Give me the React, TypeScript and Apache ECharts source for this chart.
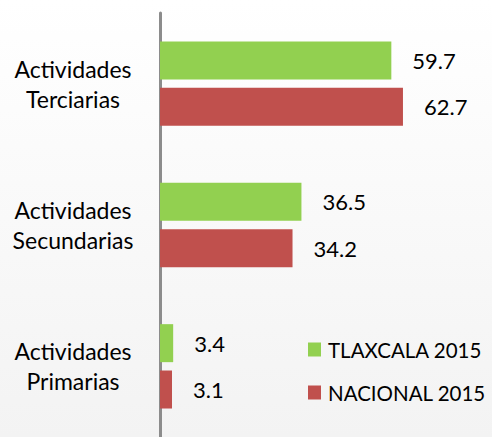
import React, { useEffect, useRef } from "react";
import * as echarts from "echarts";

const categories = ["Actividades\nTerciarias", "Actividades\nSecundarias", "Actividades\nPrimarias"];
const tlaxcala = [59.7, 36.5, 3.4];
const nacional = [62.7, 34.2, 3.1];
const seriesNames = ["TLAXCALA 2015", "NACIONAL 2015"];

export default function App() {
  const ref = useRef<HTMLDivElement>(null);
  useEffect(() => {
    const chart = echarts.init(ref.current!, null, { renderer: "svg" });
    const font = "Lato";
    const fs = 22;
    chart.setOption({
      animation: false,
      backgroundColor: {
        type: "linear", x: 0, y: 0, x2: 0, y2: 1,
        colorStops: [{ offset: 0, color: "#ffffff" }, { offset: 1, color: "#f3f3f3" }],
      },
      grid: { left: 160, right: 22, top: 13, bottom: -2, containLabel: false },
      xAxis: {
        type: "value", min: 0, max: 80, show: false,
      },
      yAxis: {
        type: "category", data: categories, inverse: true,
        axisLine: { show: true, lineStyle: { color: "#8c8c8c", width: 3 } },
        axisTick: { show: false },
        axisLabel: { align: "center", margin: 87, color: "#000", fontSize: 23, fontFamily: font, lineHeight: 30 },
      },
      legend: {
        orient: "vertical", left: 303, top: 334, itemWidth: 13, itemHeight: 14, itemGap: 22,
        icon: "rect",
        textStyle: { color: "#000", fontSize: 20.5, fontFamily: font, padding: [0, 0, 0, 2] },
        data: seriesNames,
      },
      series: [
        {
          name: seriesNames[0], type: "bar", data: tlaxcala, barWidth: 38, barGap: "22%",
          itemStyle: { color: "#92d050" },
          label: { show: true, position: "right", distance: 21, color: "#000", fontSize: fs, fontFamily: font },
        },
        {
          name: seriesNames[1], type: "bar", data: nacional, barWidth: 38, barGap: "22%",
          itemStyle: { color: "#c0504d" },
          label: { show: true, position: "right", distance: 21, color: "#000", fontSize: fs, fontFamily: font },
        },
      ],
    });
    return () => chart.dispose();
  }, []);
  return <div ref={ref} style={{ position: "absolute", left: 0, top: 0, width: 492, height: 437 }} />;
}
